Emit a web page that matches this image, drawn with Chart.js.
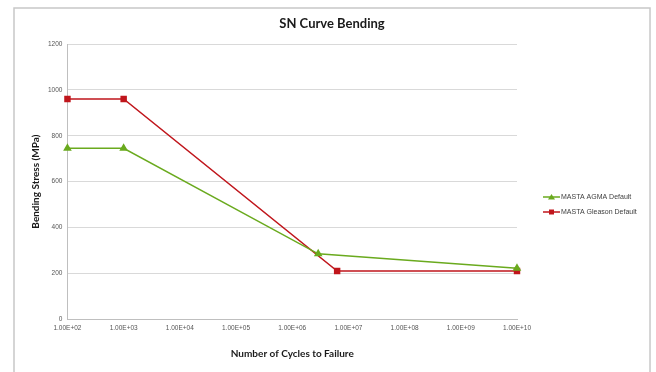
<!DOCTYPE html>
<html>
<head>
<meta charset="utf-8">
<script src="https://cdn.jsdelivr.net/npm/chart.js@4"></script>
<style>
  html, body { margin: 0; padding: 0; background: #fff; }
  #wrap { width: 656px; height: 372px; position: relative; }
</style>
</head>
<body>
<div id="wrap"><canvas id="snChart" width="656" height="372"></canvas></div>
<script>
const chartTitle = 'SN Curve Bending';
const xTitle = 'Number of Cycles to Failure';
const yTitle = 'Bending Stress (MPa)';

const xTickValues = [1e2, 1e3, 1e4, 1e5, 1e6, 1e7, 1e8, 1e9, 1e10];
const yTickValues = [0, 200, 400, 600, 800, 1000, 1200];

const agmaLabel = 'MASTA AGMA Default';
const agmaCycles = [1e2, 1e3, 2.9e6, 1e10];
const agmaStress = [745, 745, 285, 222];

const gleasonLabel = 'MASTA Gleason Default';
const gleasonCycles = [1e2, 1e3, 6.3e6, 1e10];
const gleasonStress = [960, 960, 210, 210];

const toPoints = (xs, ys) => xs.map((x, i) => ({ x: x, y: ys[i] }));

function sciLabel(v) {
    const exp = Math.round(Math.log10(v));
    const sign = exp < 0 ? '-' : '+';
    return '1.00E' + sign + String(Math.abs(exp)).padStart(2, '0');
}

// frame, title and a legend with line + marker, drawn by hand like the excel one
const framePlugin = {
    id: 'frame',
    beforeDraw(chart) {
        const c = chart.ctx;
        c.save();
        c.strokeStyle = '#c8c8c8';
        c.lineWidth = 1.5;
        c.strokeRect(14, 8, 636, 380);
        c.fillStyle = '#1a1a1a';
        c.font = 'bold 13px Lato, "Open Sans", sans-serif';
        c.textAlign = 'center';
        c.textBaseline = 'middle';
        c.fillText(chartTitle, 332, 24);
        c.restore();
    },
    afterDraw(chart) {
        const c = chart.ctx;
        const items = [
            { text: agmaLabel, color: '#6aaa1e', shape: 'triangle', y: 197 },
            { text: gleasonLabel, color: '#c0161c', shape: 'rect', y: 212 }
        ];
        c.save();
        c.font = '7px "Liberation Sans", Arial, sans-serif';
        c.textBaseline = 'middle';
        items.forEach(it => {
            c.strokeStyle = it.color;
            c.fillStyle = it.color;
            c.lineWidth = 1.5;
            c.beginPath();
            c.moveTo(543, it.y);
            c.lineTo(560, it.y);
            c.stroke();
            c.beginPath();
            if (it.shape === 'triangle') {
                c.moveTo(551.5, it.y - 3);
                c.lineTo(555, it.y + 2.5);
                c.lineTo(548, it.y + 2.5);
                c.closePath();
            } else {
                c.rect(549, it.y - 2.5, 5, 5);
            }
            c.fill();
            c.fillStyle = '#404040';
            c.fillText(it.text, 561, it.y);
        });
        c.restore();
    }
};

const ctx = document.getElementById('snChart').getContext('2d');
const snChart = new Chart(ctx, {
    type: 'line',
    data: {
        datasets: [{
            label: agmaLabel,
            data: toPoints(agmaCycles, agmaStress),
            borderColor: '#6aaa1e',
            backgroundColor: '#6aaa1e',
            borderWidth: 1.5,
            pointStyle: 'triangle',
            pointRadius: 3.5,
            pointHoverRadius: 3.5,
            clip: false
        }, {
            label: gleasonLabel,
            data: toPoints(gleasonCycles, gleasonStress),
            borderColor: '#c0161c',
            backgroundColor: '#c0161c',
            borderWidth: 1.5,
            pointStyle: 'rect',
            pointRadius: 3.5,
            pointHoverRadius: 3.5,
            clip: false
        }]
    },
    options: {
        responsive: false,
        animation: false,
        layout: {
            padding: { left: 30, right: 139, top: 44, bottom: 12 }
        },
        plugins: {
            legend: { display: false },
            tooltip: { enabled: false }
        },
        scales: {
            x: {
                type: 'logarithmic',
                min: 1e2,
                max: 1e10,
                afterBuildTicks: scale => {
                    scale.ticks = xTickValues.map(v => ({ value: v }));
                },
                ticks: {
                    autoSkip: false,
                    maxRotation: 0,
                    color: '#555',
                    font: { family: '"Liberation Sans", Arial, sans-serif', size: 6.5 },
                    padding: 2,
                    callback: v => sciLabel(v)
                },
                grid: { display: false, drawTicks: true, tickLength: 3, color: '#bfbfbf' },
                border: { color: '#bfbfbf' },
                title: {
                    display: true,
                    text: xTitle,
                    color: '#1a1a1a',
                    font: { family: 'Lato, "Open Sans", sans-serif', size: 10, weight: 'bold' },
                    padding: { top: 14, bottom: 0 }
                }
            },
            y: {
                min: 0,
                max: 1200,
                afterBuildTicks: scale => {
                    scale.ticks = yTickValues.map(v => ({ value: v }));
                },
                ticks: {
                    color: '#555',
                    font: { family: '"Liberation Sans", Arial, sans-serif', size: 6.5 },
                    padding: 5,
                    callback: v => String(v)
                },
                grid: { color: '#d9d9d9', drawTicks: false },
                border: { color: '#bfbfbf' },
                title: {
                    display: true,
                    text: yTitle,
                    color: '#1a1a1a',
                    font: { family: 'Lato, "Open Sans", sans-serif', size: 10, weight: 'bold' },
                    padding: { top: 0, bottom: 1 }
                }
            }
        }
    },
    plugins: [framePlugin]
});
</script>
</body>
</html>
